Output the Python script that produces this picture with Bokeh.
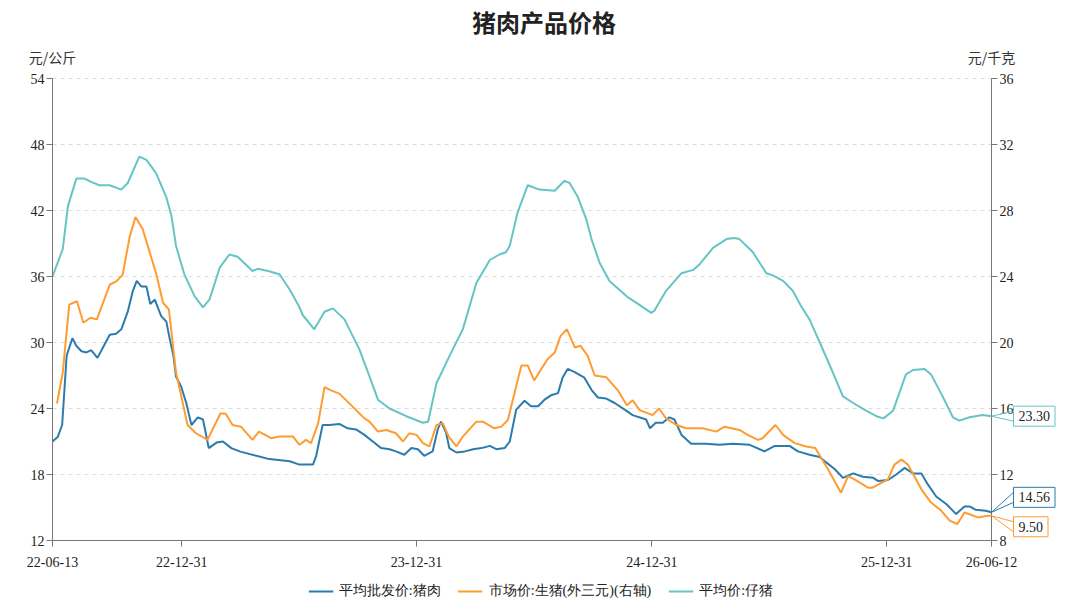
import pandas as pd
from bokeh.plotting import figure
from bokeh.models import (Range1d, LinearAxis, FixedTicker, DatetimeTickFormatter,
                          Legend, LegendItem, Label, Arrow)
from bokeh.embed import file_html
from bokeh.resources import INLINE

TITLE = "猪肉产品价格"
LEFT_UNIT = "元/公斤"
RIGHT_UNIT = "元/千克"
SERIES_NAMES = ["平均批发价:猪肉", "市场价:生猪(外三元)(右轴)", "平均价:仔猪"]
X_TICKS = ["2022-06-13", "2022-12-31", "2023-12-31", "2024-12-31", "2025-12-31", "2026-06-12"]
LEFT_TICKS = [12, 18, 24, 30, 36, 42, 48, 54]
RIGHT_TICKS = [8, 12, 16, 20, 24, 28, 32, 36]

# 平均批发价:猪肉 (left axis)
pork_dates = [
    "2022-06-13", "2022-06-21", "2022-06-28", "2022-07-05", "2022-07-14", "2022-07-20", "2022-07-28",
    "2022-08-05", "2022-08-12", "2022-08-22", "2022-08-30", "2022-09-10", "2022-09-20", "2022-09-28",
    "2022-10-08", "2022-10-16", "2022-10-22", "2022-10-29", "2022-11-06", "2022-11-12", "2022-11-19",
    "2022-11-29", "2022-12-07", "2022-12-12", "2022-12-18", "2022-12-22", "2022-12-30", "2023-01-07",
    "2023-01-15", "2023-01-25", "2023-02-02", "2023-02-11", "2023-02-23", "2023-03-05", "2023-03-18",
    "2023-03-31", "2023-04-26", "2023-05-16", "2023-06-17", "2023-07-02", "2023-07-23", "2023-07-28",
    "2023-08-07", "2023-08-18", "2023-09-02", "2023-09-15", "2023-09-28", "2023-10-11", "2023-10-24",
    "2023-11-06", "2023-11-19", "2023-11-29", "2023-12-12", "2023-12-23", "2024-01-02", "2024-01-12",
    "2024-01-25", "2024-02-02", "2024-02-07", "2024-02-15", "2024-02-20", "2024-03-02", "2024-03-15",
    "2024-03-28", "2024-04-10", "2024-04-23", "2024-05-03", "2024-05-16", "2024-05-24", "2024-06-03",
    "2024-06-16", "2024-06-26", "2024-07-07", "2024-07-17", "2024-07-27", "2024-08-07", "2024-08-14",
    "2024-08-22", "2024-09-02", "2024-09-17", "2024-09-28", "2024-10-08", "2024-10-21", "2024-11-03",
    "2024-11-21", "2024-12-01", "2024-12-22", "2024-12-28", "2025-01-06", "2025-01-17", "2025-01-27",
    "2025-02-04", "2025-02-15", "2025-03-02", "2025-03-25", "2025-04-15", "2025-05-06", "2025-06-01",
    "2025-06-24", "2025-07-10", "2025-08-02", "2025-08-15", "2025-09-02", "2025-09-18", "2025-09-28",
    "2025-10-11", "2025-10-24", "2025-11-09", "2025-11-24", "2025-12-10", "2025-12-18", "2026-01-02",
    "2026-01-15", "2026-01-28", "2026-02-10", "2026-02-23", "2026-03-05", "2026-03-18", "2026-04-03",
    "2026-04-18", "2026-05-01", "2026-05-09", "2026-05-18", "2026-06-03", "2026-06-12",
]
pork_values = [
    21.0, 21.4, 22.5, 28.8, 30.4, 29.7, 29.2,
    29.1, 29.3, 28.6, 29.5, 30.7, 30.8, 31.2,
    32.8, 34.7, 35.6, 35.1, 35.1, 33.5, 33.9,
    32.4, 31.9, 30.4, 28.8, 26.9, 26.0, 24.5,
    22.5, 23.2, 23.0, 20.4, 20.9, 21.0, 20.4,
    20.1, 19.7, 19.4, 19.2, 18.9, 18.9, 19.7,
    22.5, 22.5, 22.6, 22.2, 22.1, 21.6, 21.0,
    20.4, 20.3, 20.1, 19.8, 20.4, 20.3, 19.7,
    20.1, 22.1, 22.8, 21.8, 20.4, 20.0, 20.1,
    20.3, 20.4, 20.6, 20.3, 20.4, 21.0, 23.9,
    24.7, 24.2, 24.2, 24.8, 25.2, 25.4, 26.8,
    27.6, 27.3, 26.8, 25.7, 25.0, 24.9, 24.5,
    23.8, 23.4, 23.0, 22.2, 22.7, 22.7, 23.2,
    23.0, 21.6, 20.8, 20.8, 20.7, 20.8, 20.7,
    20.1, 20.6, 20.6, 20.1, 19.8, 19.6, 19.1,
    18.5, 17.7, 18.1, 17.8, 17.7, 17.4, 17.5,
    18.0, 18.6, 18.1, 18.1, 17.1, 16.0, 15.3,
    14.4, 15.1, 15.1, 14.8, 14.7, 14.56,
]

# 市场价:生猪(外三元) (right axis)
hog_dates = [
    "2022-06-20", "2022-06-29", "2022-07-09", "2022-07-21", "2022-07-31", "2022-08-11", "2022-08-21",
    "2022-09-10", "2022-09-20", "2022-09-30", "2022-10-11", "2022-10-20", "2022-10-31", "2022-11-21",
    "2022-12-02", "2022-12-11", "2022-12-22", "2023-01-09", "2023-01-22", "2023-02-09", "2023-03-01",
    "2023-03-09", "2023-03-20", "2023-04-02", "2023-04-20", "2023-04-30", "2023-05-19", "2023-06-01",
    "2023-06-22", "2023-07-02", "2023-07-12", "2023-07-20", "2023-07-31", "2023-08-10", "2023-08-20",
    "2023-09-02", "2023-09-23", "2023-10-11", "2023-10-19", "2023-11-01", "2023-11-14", "2023-11-29",
    "2023-12-10", "2023-12-20", "2023-12-31", "2024-01-10", "2024-01-20", "2024-01-31", "2024-02-10",
    "2024-02-19", "2024-03-02", "2024-03-12", "2024-04-02", "2024-04-12", "2024-04-30", "2024-05-11",
    "2024-05-21", "2024-06-11", "2024-06-21", "2024-07-01", "2024-07-12", "2024-07-22", "2024-08-02",
    "2024-08-11", "2024-08-21", "2024-09-02", "2024-09-11", "2024-09-22", "2024-10-03", "2024-10-21",
    "2024-11-08", "2024-11-22", "2024-12-01", "2024-12-12", "2025-01-01", "2025-01-11", "2025-01-22",
    "2025-02-07", "2025-02-22", "2025-03-20", "2025-04-10", "2025-04-23", "2025-05-16", "2025-05-29",
    "2025-06-14", "2025-06-21", "2025-07-11", "2025-07-23", "2025-08-10", "2025-08-28", "2025-09-11",
    "2025-10-01", "2025-10-21", "2025-11-01", "2025-11-11", "2025-12-02", "2025-12-09", "2026-01-02",
    "2026-01-12", "2026-01-23", "2026-02-02", "2026-02-23", "2026-03-10", "2026-03-26", "2026-04-08",
    "2026-04-20", "2026-05-01", "2026-05-22", "2026-06-06", "2026-06-12",
]
hog_values = [
    16.3, 18.2, 22.3, 22.5, 21.2, 21.5, 21.4,
    23.5, 23.7, 24.1, 26.4, 27.6, 26.9, 24.2,
    22.4, 22.0, 18.2, 15.0, 14.5, 14.1, 15.7,
    15.7, 15.0, 14.9, 14.1, 14.6, 14.2, 14.3,
    14.3, 13.8, 14.1, 13.9, 15.1, 17.3, 17.1,
    16.9, 16.1, 15.4, 15.2, 14.6, 14.7, 14.5,
    14.0, 14.5, 14.4, 13.9, 13.7, 15.0, 15.1,
    14.3, 13.7, 14.3, 15.2, 15.2, 14.8, 14.9,
    15.3, 18.6, 18.6, 17.7, 18.4, 19.0, 19.4,
    20.4, 20.8, 19.7, 19.8, 19.2, 18.0, 17.9,
    17.1, 16.2, 16.5, 15.9, 15.6, 16.0, 15.4,
    15.0, 14.8, 14.8, 14.6, 14.9, 14.7, 14.4,
    14.1, 14.2, 15.0, 14.4, 13.9, 13.7, 13.6,
    12.3, 10.9, 11.9, 11.7, 11.2, 11.2, 11.7,
    12.6, 12.9, 12.6, 11.1, 10.3, 9.8, 9.2,
    9.0, 9.7, 9.4, 9.5, 9.50,
]

# 平均价:仔猪 (left axis)
piglet_dates = [
    "2022-06-13", "2022-06-29", "2022-07-07", "2022-07-20", "2022-08-02", "2022-08-12", "2022-08-25",
    "2022-09-10", "2022-09-28", "2022-10-08", "2022-10-26", "2022-11-06", "2022-11-21", "2022-12-07",
    "2022-12-15", "2022-12-22", "2023-01-04", "2023-01-20", "2023-02-02", "2023-02-12", "2023-02-28",
    "2023-03-15", "2023-03-28", "2023-04-20", "2023-04-28", "2023-05-14", "2023-06-01", "2023-06-17",
    "2023-07-02", "2023-07-07", "2023-07-25", "2023-08-10", "2023-08-23", "2023-09-10", "2023-10-03",
    "2023-10-19", "2023-11-01", "2023-11-19", "2023-12-15", "2024-01-10", "2024-01-18", "2024-01-31",
    "2024-02-23", "2024-03-12", "2024-04-02", "2024-04-23", "2024-05-08", "2024-05-18", "2024-05-24",
    "2024-06-05", "2024-06-21", "2024-07-09", "2024-08-02", "2024-08-17", "2024-08-25", "2024-09-07",
    "2024-09-20", "2024-09-28", "2024-10-11", "2024-10-26", "2024-11-24", "2024-12-07", "2024-12-30",
    "2025-01-04", "2025-01-22", "2025-02-15", "2025-03-05", "2025-03-15", "2025-04-05", "2025-04-26",
    "2025-05-08", "2025-05-16", "2025-06-01", "2025-06-06", "2025-06-27", "2025-07-07", "2025-07-23",
    "2025-08-07", "2025-08-20", "2025-09-02", "2025-09-18", "2025-10-03", "2025-10-24", "2025-11-09",
    "2025-11-29", "2025-12-15", "2025-12-26", "2026-01-10", "2026-01-30", "2026-02-10", "2026-02-28",
    "2026-03-10", "2026-03-28", "2026-04-13", "2026-04-23", "2026-05-09", "2026-05-29", "2026-06-12",
]
piglet_values = [
    36.0, 38.5, 42.4, 44.9, 44.9, 44.6, 44.3,
    44.3, 43.9, 44.5, 46.9, 46.6, 45.4, 43.2,
    41.5, 38.8, 36.2, 34.2, 33.2, 33.9, 36.8,
    38.0, 37.8, 36.5, 36.7, 36.5, 36.2, 34.8,
    33.2, 32.5, 31.2, 32.8, 33.1, 32.1, 29.4,
    26.9, 24.8, 24.0, 23.3, 22.7, 22.8, 26.3,
    29.1, 31.2, 35.4, 37.5, 38.0, 38.2, 38.8,
    41.8, 44.3, 43.9, 43.8, 44.7, 44.5, 43.2,
    41.2, 39.4, 37.2, 35.6, 34.1, 33.6, 32.7,
    32.9, 34.7, 36.3, 36.6, 37.1, 38.6, 39.4,
    39.5, 39.4, 38.5, 38.2, 36.3, 36.1, 35.6,
    34.7, 33.3, 32.1, 30.0, 28.0, 25.1, 24.5,
    23.8, 23.3, 23.1, 23.8, 27.1, 27.5, 27.6,
    27.1, 25.1, 23.2, 22.9, 23.2, 23.4, 23.30,
]

BLUE = "#2c7bad"
ORANGE = "#ff9c30"
TEAL = "#66c4c4"
NUM_FONT = "Liberation Serif"
CJK_FONT = "Noto Sans CJK SC"
AXIS_COLOR = "#777777"

# ---- layout geometry (pixels) ----
PLOT_W, PLOT_H = 939, 462            # span of the data area in pixels
BORDER_L, BORDER_R, BORDER_T = 24, 22, 8
FRAME_W = 1033
LEFT_PAD, TOP_PAD, BOTTOM_PAD = 28, 70, 66   # frame edge -> data area
FRAME_H = TOP_PAD + PLOT_H + BOTTOM_PAD

x_start = pd.Timestamp(X_TICKS[0])
x_end = pd.Timestamp(X_TICKS[-1])
day_per_px = (x_end - x_start) / PLOT_W
left_per_px = (LEFT_TICKS[-1] - LEFT_TICKS[0]) / PLOT_H
right_per_px = (RIGHT_TICKS[-1] - RIGHT_TICKS[0]) / PLOT_H

xr_start = x_start - day_per_px * LEFT_PAD
xr_end = xr_start + day_per_px * FRAME_W
ms = lambda t: t.value / 1e6

p = figure(frame_width=FRAME_W, frame_height=FRAME_H,
           x_axis_type="datetime", x_axis_location="above",
           output_backend="svg", toolbar_location=None,
           x_range=Range1d(xr_start, xr_end),
           y_range=Range1d(LEFT_TICKS[0] - BOTTOM_PAD * left_per_px,
                           LEFT_TICKS[-1] + TOP_PAD * left_per_px),
           min_border_left=BORDER_L, min_border_right=BORDER_R,
           min_border_top=BORDER_T, min_border_bottom=0)
p.extra_y_ranges = {"right": Range1d(RIGHT_TICKS[0] - BOTTOM_PAD * right_per_px,
                                     RIGHT_TICKS[-1] + TOP_PAD * right_per_px)}
p.outline_line_color = None
p.background_fill_color = "white"
p.border_fill_color = "white"
p.xgrid.grid_line_color = None
p.ygrid.grid_line_color = None

# dashed horizontal grid across the data span
p.segment(x0=[x_start] * len(LEFT_TICKS), x1=[x_end] * len(LEFT_TICKS),
          y0=LEFT_TICKS, y1=LEFT_TICKS, line_color="#dddddd", line_width=1, line_dash="4 4")

r_pork = p.line(pd.to_datetime(pork_dates), pork_values, line_color=BLUE, line_width=2)
r_hog = p.line(pd.to_datetime(hog_dates), hog_values, line_color=ORANGE, line_width=2,
               y_range_name="right")
r_piglet = p.line(pd.to_datetime(piglet_dates), piglet_values, line_color=TEAL, line_width=2)


def style_axis(ax):
    ax.axis_line_color = AXIS_COLOR
    ax.major_tick_line_color = AXIS_COLOR
    ax.minor_tick_line_color = None
    ax.major_tick_in = 0
    ax.major_tick_out = 6
    ax.major_label_text_font = NUM_FONT
    ax.major_label_text_font_size = "14px"
    ax.major_label_text_color = "#222222"


# x axis sits on the 12 line; ticks and labels point downward
xax = p.xaxis[0]
xax.ticker = FixedTicker(ticks=[ms(pd.Timestamp(t)) for t in X_TICKS])
fmt = "%y-%m-%d"
xax.formatter = DatetimeTickFormatter(milliseconds=fmt, seconds=fmt, minsec=fmt, minutes=fmt,
                                      hourmin=fmt, hours=fmt, days=fmt, months=fmt, years=fmt)
xax.bounds = (ms(x_start), ms(x_end))
xax.fixed_location = LEFT_TICKS[0]
style_axis(xax)
xax.major_tick_out = 0
xax.major_tick_in = 6
xax.major_label_standoff = -26

yax = p.yaxis[0]
yax.ticker = FixedTicker(ticks=LEFT_TICKS)
yax.bounds = (LEFT_TICKS[0], LEFT_TICKS[-1])
yax.fixed_location = ms(x_start)
style_axis(yax)
yax.major_label_standoff = 2

rax = LinearAxis(y_range_name="right", ticker=FixedTicker(ticks=RIGHT_TICKS),
                 bounds=(RIGHT_TICKS[0], RIGHT_TICKS[-1]), fixed_location=ms(x_end))
style_axis(rax)
rax.major_label_standoff = 2
p.add_layout(rax, "right")

# title and unit labels
mid = x_start + (x_end - x_start) / 2
p.add_layout(Label(x=mid, y=LEFT_TICKS[-1], x_offset=22, y_offset=57, text=TITLE,
                   text_align="center", text_baseline="middle", text_font=CJK_FONT,
                   text_font_size="24px", text_font_style="bold", text_color="#222222"))
p.add_layout(Label(x=x_start, y=LEFT_TICKS[-1], y_offset=22, text=LEFT_UNIT,
                   text_align="center", text_baseline="middle", text_font=CJK_FONT,
                   text_font_size="14px", text_color="#333333"))
p.add_layout(Label(x=x_end, y=LEFT_TICKS[-1], y_offset=22, text=RIGHT_UNIT,
                   text_align="center", text_baseline="middle", text_font=CJK_FONT,
                   text_font_size="14px", text_color="#333333"))

# end-value callouts
end_ms = ms(x_end)
gap_ms = (day_per_px * 22).value / 1e6
callouts = [
    (piglet_values[-1], TEAL, 0, left_per_px, None),
    (pork_values[-1], BLUE, 15, left_per_px, None),
    (hog_values[-1], ORANGE, -11, right_per_px, "right"),
]
for val, col, dy, per_px, rng in callouts:
    kw = {} if rng is None else {"y_range_name": rng}
    for d in (-5, 5):
        p.add_layout(Arrow(end=None, x_start=end_ms, y_start=val, x_end=end_ms + gap_ms,
                           y_end=val + (dy + d) * per_px, line_color=col, line_width=1, **kw))
    p.add_layout(Label(x=end_ms, y=val, x_offset=22, y_offset=dy, text=f"{val:.2f}",
                       text_align="left", text_baseline="middle", text_font=NUM_FONT,
                       text_font_size="14px", text_color="#222222",
                       border_line_color=col, border_line_width=1,
                       background_fill_color="white", padding=5, **kw))

legend = Legend(items=[LegendItem(label=SERIES_NAMES[0], renderers=[r_pork]),
                       LegendItem(label=SERIES_NAMES[1], renderers=[r_hog]),
                       LegendItem(label=SERIES_NAMES[2], renderers=[r_piglet])],
                orientation="horizontal", location="bottom_center", border_line_color=None,
                background_fill_alpha=0, glyph_width=25, glyph_height=16, label_height=16,
                label_standoff=6, spacing=17, padding=0, margin=6, label_text_font=NUM_FONT,
                label_text_font_size="14px", label_text_color="#222222")
p.add_layout(legend, "center")

open("out.html", "w").write(file_html(p, INLINE))
